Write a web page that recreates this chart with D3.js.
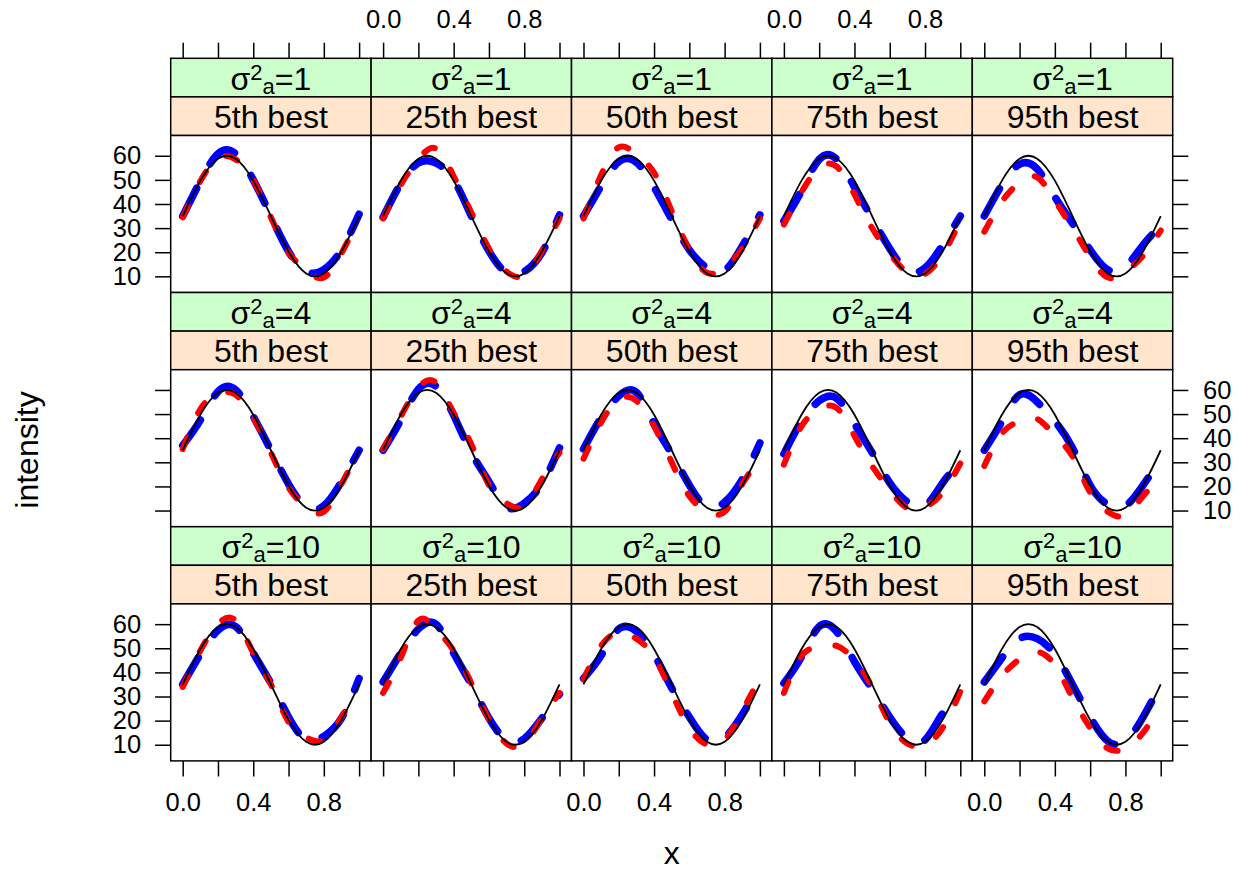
<!DOCTYPE html>
<html>
<head>
<meta charset="utf-8">
<script src="https://cdn.jsdelivr.net/npm/d3@7"></script>
<style>
  body { margin: 0; background: #fff; }
  svg { display: block; }
</style>
</head>
<body>
<svg id="chart"></svg>
<script>
// Data
const xGrid = [0, 0.1, 0.2, 0.3, 0.4, 0.5, 0.6, 0.7, 0.8, 0.9, 1.0];
const sigmaLevels = ["1", "4", "10"];
const rankLabels = ["5th best", "25th best", "50th best", "75th best", "95th best"];
const xTicks = [0, 0.2, 0.4, 0.6, 0.8, 1.0];
const xLabelTicks = [0, 0.4, 0.8];
const yTicks = [10, 20, 30, 40, 50, 60];

// true curve (thin black)
const truth = [35, 49.7, 58.8, 58.8, 49.7, 35, 20.3, 11.2, 11.2, 20.3, 35];

// blue estimates, one array per column (5th .. 95th best)
const blueS1 = [
  [35, 49.5, 60.8, 60.8, 50, 35, 20.3, 12, 12.8, 21, 35.8],
  [34.5, 48.5, 57, 57, 50, 35, 20.5, 11.5, 12, 19.8, 35.5],
  [35, 47.5, 57.5, 57.3, 47, 33.5, 21, 13.5, 12.5, 22.5, 35.5],
  [33, 45.5, 58.5, 58.5, 47, 34, 21.5, 12.5, 13.5, 23, 35],
  [35, 48, 56.5, 54.5, 43, 32, 21, 12.7, 14, 23, 31]
];
const blueS4 = [
  [37, 47.5, 59.3, 60, 49, 35, 21, 11.5, 12, 22, 35],
  [35, 47.5, 60.3, 61.5, 49.5, 34, 22, 11.5, 13, 21, 36],
  [35.5, 48.5, 57.5, 59, 46, 33.5, 20.5, 11.5, 13.5, 23, 38],
  [33.5, 47, 55.5, 56.5, 46, 34, 21.5, 13.5, 12, 21.5, 30],
  [35, 47, 58, 55, 47, 36, 20.5, 12.5, 12, 20.5, 31]
];
const blueS10 = [
  [35, 47.5, 57.5, 59, 48, 35.5, 21.5, 12, 13.5, 21, 37.5],
  [36, 48, 58, 60, 48, 35, 21, 12, 12.5, 21, 31],
  [37.5, 47, 58, 57, 47.5, 33.5, 21.5, 12, 13, 22.5, 35],
  [35.5, 46.5, 59, 56.8, 44.5, 33, 21.5, 12.5, 12, 23, 30],
  [36, 46, 54, 54, 47.5, 35, 21.5, 11.5, 11.5, 21.5, 35]
];

// red estimates
const redS1 = [
  [34.5, 49.5, 59, 58.5, 50, 34.5, 20, 12.5, 9.5, 19.5, 34],
  [34, 48, 58.5, 63, 51.5, 36.5, 21.5, 12, 10.5, 20.5, 34],
  [34, 52, 63.5, 60.5, 53, 37, 21, 11.5, 13.5, 21.5, 34],
  [31.5, 45, 55, 55.5, 44, 30, 19.5, 11.5, 11, 19, 33],
  [28.5, 41, 49, 51, 41.5, 30, 18, 9.5, 12, 18.5, 29]
];
const redS4 = [
  [35.5, 52, 58.5, 58, 48.5, 34, 19.5, 11.5, 9.5, 21, 34],
  [35.5, 49, 61, 63, 50.5, 37.5, 20.5, 13, 12, 23, 34],
  [31.5, 46.5, 56, 55.5, 45, 30, 16, 9.5, 9.5, 21, 31],
  [29, 45, 52, 52.5, 41, 28.5, 18.5, 11, 11.5, 17.5, 29.5],
  [28.5, 42, 47, 48, 41, 32.5, 17.5, 9.5, 8, 16, 23]
];
const redS10 = [
  [34, 49, 60, 61.5, 48, 35, 19.5, 13, 12, 21.5, 33],
  [31.5, 46, 61.5, 58, 49, 35.5, 20.5, 10.5, 10.5, 21, 31.5],
  [37, 51, 56.5, 54, 46.5, 31.5, 17, 10, 12, 24, 37.5],
  [31.5, 47, 50.5, 51, 45, 34, 19, 10.5, 10, 17, 32],
  [28, 38.5, 45.5, 48.5, 43, 29.5, 17, 8.5, 8.5, 15, 26]
];

const blueRows = [blueS1, blueS4, blueS10];
const redRows = [redS1, redS4, redS10];

// Layout
const width = 1253;
const height = 871;
const plotLeft = 170.7;
const plotTop = 58.3;
const colW = 200.4;
const stripH = 38.6;
const panelH = 157;
const rowH = 2 * stripH + panelH;
const tickLen = 15.6;
const font = "'Liberation Sans', Arial, Helvetica, sans-serif";

const svg = d3.select("#chart")
  .attr("width", width)
  .attr("height", height)
  .style("font-family", font);

const x = d3.scaleLinear().domain([-0.068, 1.068]).range([0, colW]);
const y = d3.scaleLinear().domain([3.3, 68.4]).range([panelH, 0]);

const line = d3.line()
  .x((d, i) => x(xGrid[i]))
  .y(d => y(d))
  .curve(d3.curveNatural);

function styleAxis(g, showLabels) {
  g.select(".domain").remove();
  g.attr("font-family", font);
  g.selectAll(".tick line").attr("stroke", "#000").attr("stroke-width", 1.5);
  g.selectAll(".tick text").attr("font-size", 25.5).attr("fill", "#000");
  if (!showLabels) g.selectAll(".tick text").remove();
}

const xFormat = d => xLabelTicks.includes(d) ? d3.format(".1f")(d) : "";

sigmaLevels.forEach((s, r) => {
  const rowTop = plotTop + r * rowH;
  const panelTop = rowTop + 2 * stripH;

  rankLabels.forEach((lab, c) => {
    const g = svg.append("g")
      .attr("transform", `translate(${plotLeft + c * colW},${rowTop})`);

    // green strip: sigma^2_a
    g.append("rect")
      .attr("width", colW).attr("height", stripH)
      .attr("fill", "#ccffcc").attr("stroke", "#000").attr("stroke-width", 1.5);
    const t = g.append("text")
      .attr("x", colW / 2).attr("y", stripH / 2 + 12.5)
      .attr("text-anchor", "middle").attr("font-size", 32);
    t.append("tspan").text("σ");
    t.append("tspan").attr("font-size", 22).attr("dy", -10).text("2");
    t.append("tspan").attr("font-size", 22).attr("dy", 14).text("a");
    t.append("tspan").attr("font-size", 32).attr("dy", -4).text("=" + s);

    // peach strip: rank
    g.append("rect")
      .attr("y", stripH)
      .attr("width", colW).attr("height", stripH)
      .attr("fill", "#ffe5cc").attr("stroke", "#000").attr("stroke-width", 1.5);
    g.append("text")
      .attr("x", colW / 2).attr("y", stripH * 1.5 + 11.5)
      .attr("text-anchor", "middle").attr("font-size", 32)
      .text(lab);

    // panel
    const p = g.append("g").attr("transform", `translate(0,${2 * stripH})`);
    p.append("rect")
      .attr("width", colW).attr("height", panelH)
      .attr("fill", "#fff");

    p.append("path")
      .attr("d", line(blueRows[r][c]))
      .attr("fill", "none").attr("stroke", "#0000ff")
      .attr("stroke-width", 7.5).attr("stroke-linecap", "round")
      .attr("stroke-dasharray", "31 28");
    p.append("path")
      .attr("d", line(redRows[r][c]))
      .attr("fill", "none").attr("stroke", "#ff0000")
      .attr("stroke-width", 6).attr("stroke-linecap", "round")
      .attr("stroke-dasharray", "12 27");
    p.append("path")
      .attr("d", line(truth))
      .attr("fill", "none").attr("stroke", "#000")
      .attr("stroke-width", 1.8);

    p.append("rect")
      .attr("width", colW).attr("height", panelH)
      .attr("fill", "none").attr("stroke", "#000").attr("stroke-width", 1.5);

    // x axes: top above first row, bottom below last row
    if (r === 0) {
      svg.append("g")
        .attr("transform", `translate(${plotLeft + c * colW},${rowTop})`)
        .call(d3.axisTop(x).tickValues(xTicks).tickSize(tickLen).tickPadding(14.7).tickFormat(xFormat))
        .call(g => styleAxis(g, c % 2 === 1));
    }
    if (r === sigmaLevels.length - 1) {
      svg.append("g")
        .attr("transform", `translate(${plotLeft + c * colW},${panelTop + panelH})`)
        .call(d3.axisBottom(x).tickValues(xTicks).tickSize(tickLen).tickPadding(16.8).tickFormat(xFormat))
        .call(g => styleAxis(g, c % 2 === 0));
    }
  });

  // y axes left and right of each row
  svg.append("g")
    .attr("transform", `translate(${plotLeft},${panelTop})`)
    .call(d3.axisLeft(y).tickValues(yTicks).tickSize(tickLen).tickPadding(14))
    .call(g => styleAxis(g, r !== 1));
  svg.append("g")
    .attr("transform", `translate(${plotLeft + rankLabels.length * colW},${panelTop})`)
    .call(d3.axisRight(y).tickValues(yTicks).tickSize(tickLen).tickPadding(14.7))
    .call(g => styleAxis(g, r === 1));
});

// axis titles
svg.append("text")
  .attr("x", plotLeft + rankLabels.length * colW / 2).attr("y", 864)
  .attr("text-anchor", "middle").attr("font-size", 32)
  .text("x");
svg.append("text")
  .attr("transform", "translate(38,450) rotate(-90)")
  .attr("text-anchor", "middle").attr("font-size", 32)
  .text("intensity");
</script>
</body>
</html>
